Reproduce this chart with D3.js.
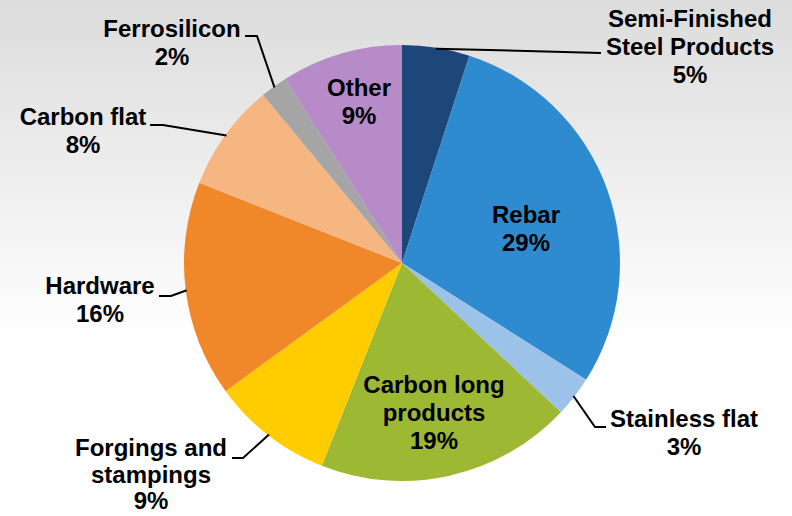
<!DOCTYPE html>
<html>
<head>
<meta charset="utf-8">
<script src="https://cdn.jsdelivr.net/npm/d3@7"></script>
<style>
  html, body { margin: 0; padding: 0; background: #fff; }
  svg { display: block; }
  text { font-family: "Liberation Sans", Arial, sans-serif; font-weight: bold; fill: #000; }
</style>
</head>
<body>
<svg id="chart" width="792" height="516"></svg>
<script>
// Product mix shares (percent), clockwise from 12 o'clock
const categories = ["Semi-Finished Steel Products", "Rebar", "Stainless flat", "Carbon long products",
  "Forgings and stampings", "Hardware", "Carbon flat", "Ferrosilicon", "Other"];
const values = [5, 29, 3, 19, 9, 16, 8, 2, 9];
const labelLines = [
  ["Semi-Finished", "Steel Products"], ["Rebar"], ["Stainless flat"], ["Carbon long", "products"],
  ["Forgings and", "stampings"], ["Hardware"], ["Carbon flat"], ["Ferrosilicon"], ["Other"]
];
const colors = ["#1d4679", "#2f8bd0", "#9cc2ea", "#9db933", "#ffcc00", "#f0882a", "#f5b682", "#a5a5a5", "#b68bc8"];

// Label placement: text anchor (x, first baseline), optional line height,
// and optional leader elbow/end points
const layout = [
  { tx: 690, ty: 27, leader: [[601, 53]] },
  { tx: 526, ty: 223 },
  { tx: 684, ty: 427, leader: [[595, 427], [606, 427]] },
  { tx: 434, ty: 393 },
  { tx: 151, ty: 456, lh: 26.5, leader: [[243, 458], [232, 458]] },
  { tx: 100, ty: 294, leader: [[171, 296], [159, 296]] },
  { tx: 83,  ty: 125, leader: [[163, 125], [150, 125]] },
  { tx: 172, ty: 37,  leader: [[257, 36], [245, 36]] },
  { tx: 359, ty: 96 }
];

const W = 792, H = 516;
const cx = 402, cy = 263, R = 218;
const lineH = 28;

const svg = d3.select("#chart");

// Soft grey-to-white backdrop
const defs = svg.append("defs");
const grad = defs.append("linearGradient").attr("id", "bg").attr("x1", 0).attr("y1", 0).attr("x2", 0).attr("y2", 1);
grad.append("stop").attr("offset", "0%").attr("stop-color", "#dcdcdc");
grad.append("stop").attr("offset", "66%").attr("stop-color", "#ffffff");
grad.append("stop").attr("offset", "100%").attr("stop-color", "#ffffff");
svg.append("rect").attr("width", W).attr("height", H).attr("fill", "url(#bg)");

const data = categories.map((c, i) => ({ name: c, value: values[i], lines: labelLines[i], color: colors[i], lay: layout[i] }));

const pie = d3.pie().value(d => d.value).sort(null);
const arcs = pie(data);
const arc = d3.arc().innerRadius(0).outerRadius(R);
const edge = d3.arc().innerRadius(R - 1).outerRadius(R - 1);

const g = svg.append("g").attr("transform", `translate(${cx},${cy})`);

g.selectAll("path.slice")
  .data(arcs)
  .join("path")
  .attr("class", "slice")
  .attr("d", arc)
  .attr("fill", d => d.data.color);

// Leader lines from the slice rim to the outside labels
const line = d3.line();
svg.append("g").selectAll("path.leader")
  .data(arcs.filter(d => d.data.lay.leader))
  .join("path")
  .attr("class", "leader")
  .attr("fill", "none")
  .attr("stroke", "#000")
  .attr("stroke-width", 2)
  .attr("d", d => {
    const [ex, ey] = edge.centroid(d);
    return line([[cx + ex, cy + ey], ...d.data.lay.leader]);
  });

// Category name lines followed by the percent line
const labels = svg.append("g").selectAll("text.lbl")
  .data(arcs)
  .join("text")
  .attr("class", "lbl")
  .attr("text-anchor", "middle")
  .attr("font-size", 24)
  .attr("x", d => d.data.lay.tx)
  .attr("y", d => d.data.lay.ty);

labels.each(function (d) {
  const t = d3.select(this);
  const lh = d.data.lay.lh || lineH;
  const all = [...d.data.lines, d3.format(".0f")(d.data.value) + "%"];
  all.forEach((s, i) => {
    t.append("tspan")
      .attr("x", d.data.lay.tx)
      .attr("y", d.data.lay.ty + i * lh)
      .text(s);
  });
});
</script>
</body>
</html>
